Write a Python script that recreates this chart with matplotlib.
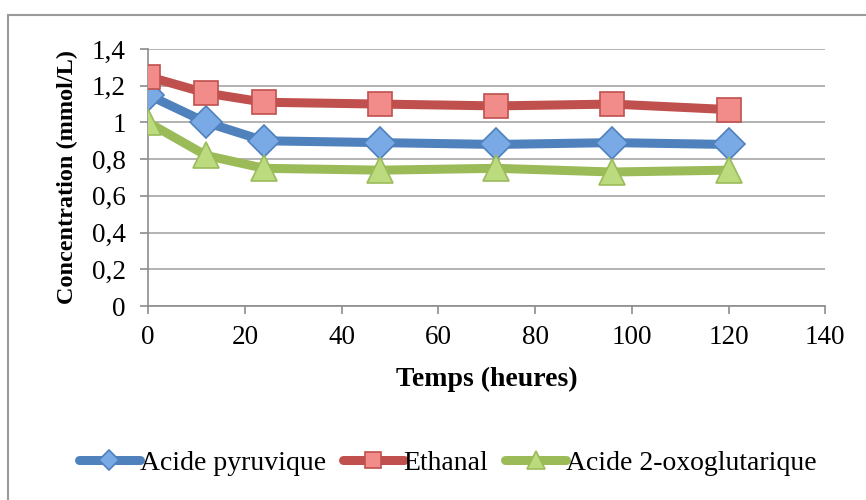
import numpy as np
import matplotlib.pyplot as plt
from matplotlib.patches import Rectangle

temps = [0, 12, 24, 48, 72, 96, 120]
pyruvique = [1.15, 1.00, 0.90, 0.89, 0.88, 0.89, 0.88]
ethanal = [1.25, 1.16, 1.11, 1.10, 1.09, 1.10, 1.07]
oxoglut = [1.00, 0.82, 0.75, 0.74, 0.75, 0.73, 0.74]

plt.rcParams['font.family'] = ['Liberation Serif', 'DejaVu Serif']

fig = plt.figure(figsize=(8.66, 5), dpi=100)
ax = fig.add_axes([0.171, 0.388, 0.782, 0.514])

# cadre exterieur
fig.patches.append(Rectangle((8/866, -0.1), 1.1, 1 - 15/500 + 0.1, transform=fig.transFigure,
                             fill=False, edgecolor='#9a9a9a', linewidth=1.5))

ax.plot(temps, pyruvique, color='#4F81BD', linewidth=6.5, marker='D', markersize=16,
        markerfacecolor='#7AAAE6', markeredgecolor='#4F81BD', markeredgewidth=1.2,
        label='Acide pyruvique', solid_capstyle='round', zorder=3)
ax.plot(temps, ethanal, color='#C0504D', linewidth=6.5, marker='s', markersize=17,
        markerfacecolor='#F28C8A', markeredgecolor='#C0504D', markeredgewidth=1.2,
        label='Ethanal', solid_capstyle='round', zorder=3)
ax.plot(temps, oxoglut, color='#9BBB59', linewidth=6.5, marker='^', markersize=19,
        markerfacecolor='#BCDB7E', markeredgecolor='#9BBB59', markeredgewidth=1.2,
        label='Acide 2-oxoglutarique', solid_capstyle='round', zorder=3)

ax.set_xlim(0, 140)
ax.set_ylim(0, 1.4)
ax.set_xticks(np.arange(0, 141, 20))
ax.set_yticks(np.arange(0, 1.41, 0.2))
ax.set_yticklabels(['0', '0,2', '0,4', '0,6', '0,8', '1', '1,2', '1,4'])
ax.tick_params(labelsize=19.5, color='#8c8c8c', length=6, width=1.2, direction='out')
ax.yaxis.grid(True, color='#a6a6a6', linewidth=1.2)
ax.set_axisbelow(True)
for s in ['top', 'right']:
    ax.spines[s].set_visible(False)
for s in ['left', 'bottom']:
    ax.spines[s].set_color('#8c8c8c')
    ax.spines[s].set_linewidth(1.2)
ax.tick_params(axis='y', pad=10)
ax.tick_params(axis='x', pad=8)

ax.set_xlabel('Temps (heures)', fontsize=20, fontweight='bold', labelpad=12)
ax.set_ylabel('Concentration (mmol/L)', fontsize=17.5, fontweight='bold', labelpad=10)

fig.legend(loc='center', bbox_to_anchor=(0.517, 0.074), ncol=3, frameon=False,
           fontsize=20, handlelength=2.2, handletextpad=0.0, columnspacing=0.6,
           markerscale=0.65)

fig.savefig('out.png', dpi=100, facecolor='white')
